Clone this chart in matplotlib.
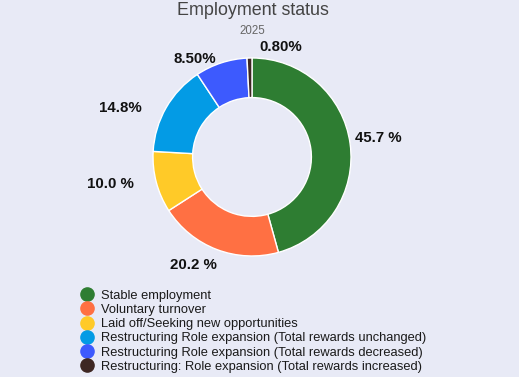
import numpy as np
import matplotlib.pyplot as plt
from matplotlib.lines import Line2D

categories = [
    "Stable employment",
    "Voluntary turnover",
    "Laid off/Seeking new opportunities",
    "Restructuring Role expansion (Total rewards unchanged)",
    "Restructuring Role expansion (Total rewards decreased)",
    "Restructuring: Role expansion (Total rewards increased)",
]
shares = [45.7, 20.2, 10.0, 14.8, 8.5, 0.8]
share_labels = ["45.7 %", "20.2 %", "10.0 %", "14.8%", "8.50%", "0.80%"]
colors = ["#2E7D32", "#FF7043", "#FFCA28", "#039BE5", "#3D5AFE", "#3E2723"]

# label placement: distance of label centre (in radii) and angle shift (deg)
label_dist = [1.29, 1.24, 1.46, 1.42, 1.14, 1.15]
label_shift = [1, -7.7, -4, 9.5, 12, -16]

bg = "#E8EAF6"
plt.rcParams['font.family'] = ['Liberation Sans', 'DejaVu Sans']

fig = plt.figure(figsize=(5.19, 3.77), dpi=100, facecolor=bg)
ax = fig.add_axes([0.2948, 0.321, 0.3815, 0.5252])
ax.set_facecolor(bg)

wedges, _ = ax.pie(shares, colors=colors, startangle=90, counterclock=False,
                   radius=1.0, wedgeprops=dict(width=0.4, edgecolor="white", linewidth=1))
ax.set_xlim(-1, 1)
ax.set_ylim(-1, 1)
ax.set_aspect("equal")
ax.axis("off")

for w, lab, d, sh in zip(wedges, share_labels, label_dist, label_shift):
    ang = np.deg2rad((w.theta1 + w.theta2) / 2 + sh)
    ax.text(d * np.cos(ang), d * np.sin(ang), lab, ha="center", va="center",
            fontsize=10.8, fontweight="bold", color="#111111")

fig.text(0.487, 0.973, "Employment status", ha="center", va="center",
         fontsize=12.9, color="#444444")
fig.text(0.487, 0.918, "2025", ha="center", va="center", fontsize=8.3, color="#666666")

handles = [Line2D([], [], marker="o", linestyle="none", markersize=9.5,
                  markerfacecolor=col, markeredgecolor=col) for col in colors]
fig.legend(handles, categories, loc="upper left", bbox_to_anchor=(0.155, 0.232),
           frameon=False, fontsize=9.3, labelspacing=0.17, handlelength=1.0,
           handletextpad=0.59, borderpad=0, borderaxespad=0, labelcolor="#1a1a1a")

fig.savefig("out.png", dpi=100, facecolor=bg)
